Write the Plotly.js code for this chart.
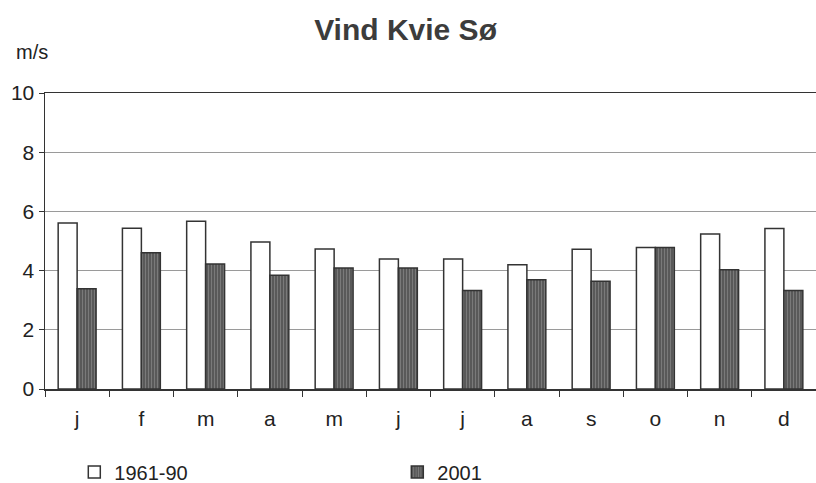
<!DOCTYPE html>
<html>
<head>
<meta charset="utf-8">
<script src="https://cdn.plot.ly/plotly-3.0.1.min.js"></script>
<style>html,body{margin:0;padding:0;background:#fff;}#chart{width:816px;height:483px;}</style>
</head>
<body>
<div id="chart"></div>
<script>
const months = ["j","f","m","a","m ","j ","j  ","a ","s","o","n","d"];
const monthLabels = ["j","f","m","a","m","j","j","a","s","o","n","d"];
const normal = [5.61, 5.43, 5.67, 4.97, 4.73, 4.39, 4.39, 4.20, 4.72, 4.78, 5.24, 5.42];
const y2001 = [3.39, 4.60, 4.22, 3.84, 4.09, 4.09, 3.33, 3.69, 3.64, 4.78, 4.03, 3.33];
const yTicks = [0, 2, 4, 6, 8, 10];

const font = {family: "Liberation Sans, Arial, sans-serif", color: "#222"};

const traces = [
  {
    type: "bar", name: "1961-90", x: months, y: normal,
    marker: {color: "#ffffff", line: {color: "#333", width: 1.5}}
  },
  {
    type: "bar", name: "2001", x: months, y: y2001,
    marker: {color: "#555555", line: {color: "#333", width: 1.5},
      pattern: {shape: "|", bgcolor: "#555555", fgcolor: "#7a7a7a", size: 3, solidity: 0.4}}
  }
];

const layout = {
  width: 816, height: 483,
  margin: {l: 45, r: 0, t: 93, b: 94},
  paper_bgcolor: "#fff", plot_bgcolor: "#fff",
  font: Object.assign({size: 20}, font),
  barmode: "group", bargap: 0.41, bargroupgap: 0,
  showlegend: true,
  title: {text: "<b>Vind Kvie Sø</b>", x: 0.497, xref: "container", xanchor: "center",
    y: 1 - 29/483, yref: "container", yanchor: "middle",
    font: {family: font.family, size: 30, color: "#3c3c3c"}},
  xaxis: {
    type: "category", tickmode: "array", tickvals: months, ticktext: monthLabels,
    tickson: "boundaries", ticks: "outside", ticklen: 6, tickcolor: "#333",
    showline: true, linecolor: "#333", linewidth: 1.5, mirror: true,
    showgrid: false, ticklabelstandoff: 10, automargin: false,
    tickfont: {size: 21, color: "#222", family: font.family},
    fixedrange: true
  },
  yaxis: {
    range: [0, 10], tickvals: yTicks, ticks: "outside", ticklen: 5, tickcolor: "#333",
    showline: true, linecolor: "#333", linewidth: 1.5, automargin: false,
    showgrid: true, gridcolor: "#9a9a9a", gridwidth: 1, zeroline: false,
    tickfont: {size: 21, color: "#222", family: font.family}
  },
  legend: {
    orientation: "h", x: 0.038, xanchor: "left",
    yref: "container", y: 1 - 472/483, yanchor: "middle",
    entrywidth: 278, entrywidthmode: "pixels",
    font: {size: 20, color: "#222", family: font.family}, itemclick: false
  },
  annotations: [{
    text: "m/s", xref: "paper", yref: "paper", x: -0.017, y: 1 + (93 - 52)/296,
    xanchor: "center", yanchor: "middle", showarrow: false,
    font: {size: 20, color: "#222", family: font.family}
  }]
};

Plotly.newPlot("chart", traces, layout, {displayModeBar: false, staticPlot: true});
</script>
</body>
</html>
